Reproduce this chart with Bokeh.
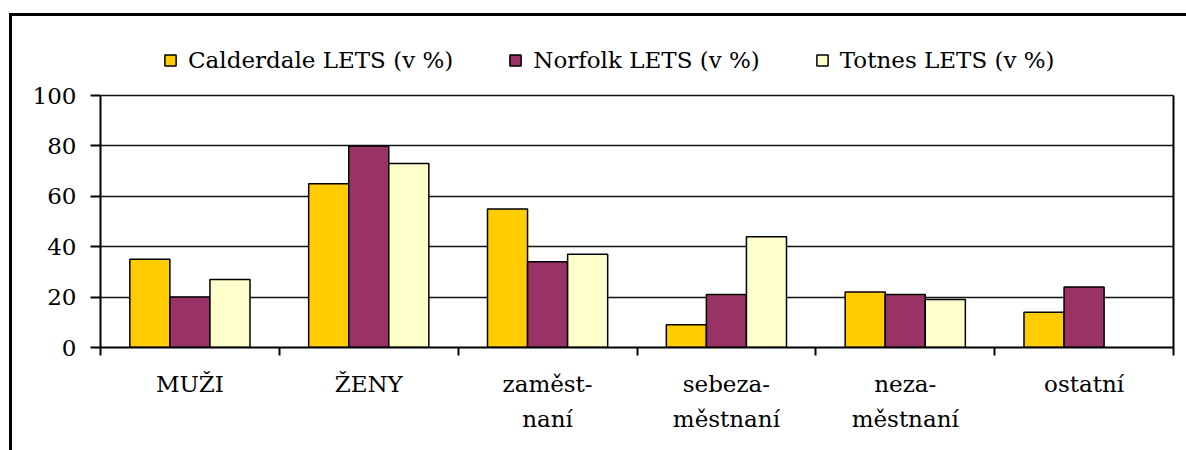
from bokeh.plotting import figure
from bokeh.models import (Range1d, FixedTicker, Legend, LegendItem, ColumnDataSource,
                          LinearAxis, InlineStyleSheet)
from bokeh.embed import file_html
from bokeh.resources import INLINE

categories = ["MUŽI", "ŽENY", "zaměst-\nnaní", "sebeza-\nměstnaní", "neza-\nměstnaní", "ostatní"]
series_names = ["Calderdale LETS (v %)", "Norfolk LETS (v %)", "Totnes LETS (v %)"]
calderdale = [35, 65, 55, 9, 22, 14]
norfolk = [20, 80, 34, 21, 21, 24]
totnes = [27, 73, 37, 44, 19, float("nan")]
y_ticks = [0, 20, 40, 60, 80, 100]
colors = ["#FFCC00", "#993366", "#FFFFCC"]

FONT = "DejaVu Serif"
FS = "23px"
Y_MAX = 100
Y_HEAD = 125.8  # room above the plot area for the legend

W, H = 1178, 442
p = figure(width=W, height=H, output_backend="svg", toolbar_location=None,
           x_range=Range1d(0, len(categories)), y_range=Range1d(0, Y_HEAD),
           min_border_left=100, min_border_right=5, min_border_top=30, min_border_bottom=95)
p.stylesheets = [InlineStyleSheet(css="""
:host::after {
  content: "";
  position: absolute;
  left: 9px; top: 13px; right: -20px; bottom: -20px;
  border-left: 3px solid black;
  border-top: 3px solid black;
  pointer-events: none;
  z-index: 100;
}
""")]
p.background_fill_color = "white"
p.border_fill_color = "white"
p.outline_line_color = None

bar_w = 0.224
offsets = [-bar_w, 0.0, bar_w]
series = [calderdale, norfolk, totnes]
items = []
for k, (vals, name, col) in enumerate(zip(series, series_names, colors)):
    src = ColumnDataSource(dict(x=[i + 0.5 + offsets[k] for i in range(len(categories))], top=vals))
    r = p.vbar(x="x", top="top", bottom=0, width=bar_w, source=src,
               fill_color=col, line_color="black", line_width=1.5)
    items.append(LegendItem(label=name, renderers=[r]))

# x axis: labels at category centres, tick marks at category boundaries
p.xaxis.ticker = FixedTicker(ticks=[i + 0.5 for i in range(len(categories))],
                             minor_ticks=list(range(len(categories) + 1)))
p.xaxis.major_label_overrides = {i + 0.5: c for i, c in enumerate(categories)}
p.xaxis.major_tick_line_color = None
p.xaxis.major_tick_out = 0
p.xaxis.major_tick_in = 0
p.xaxis.minor_tick_line_color = "black"
p.xaxis.minor_tick_line_width = 2
p.xaxis.minor_tick_out = 8
p.xaxis.minor_tick_in = 0
p.xaxis.major_label_standoff = 15
p.xaxis.major_label_text_line_height = 1.35

p.yaxis.ticker = FixedTicker(ticks=y_ticks, minor_ticks=[])
p.yaxis.bounds = (0, Y_MAX)
p.yaxis.major_tick_out = 10
p.yaxis.major_tick_in = 0
p.yaxis.major_tick_line_width = 2
p.yaxis.major_label_standoff = 14

for ax in (p.xaxis[0], p.yaxis[0]):
    ax.axis_line_color = "black"
    ax.axis_line_width = 2
    ax.major_label_text_font = FONT
    ax.major_label_text_font_size = FS
    ax.major_label_text_color = "black"

# right-hand border of the plot area
right_axis = LinearAxis(ticker=FixedTicker(ticks=[]), bounds=(0, Y_MAX),
                        axis_line_color="black", axis_line_width=2,
                        major_tick_line_color=None, minor_tick_line_color=None)
p.add_layout(right_axis, "right")

p.xgrid.grid_line_color = None
p.ygrid.grid_line_color = "#111111"
p.ygrid.grid_line_width = 1.3
p.ygrid.ticker = FixedTicker(ticks=y_ticks[1:])

legend = Legend(items=items, orientation="horizontal", location=(63, 274),
                glyph_width=14, glyph_height=14, label_standoff=11, spacing=55,
                padding=0, margin=0, border_line_color=None, background_fill_alpha=0,
                label_text_font=FONT, label_text_font_size=FS, label_text_color="black")
p.add_layout(legend, "center")

open("out.html", "w").write(file_html(p, INLINE))
